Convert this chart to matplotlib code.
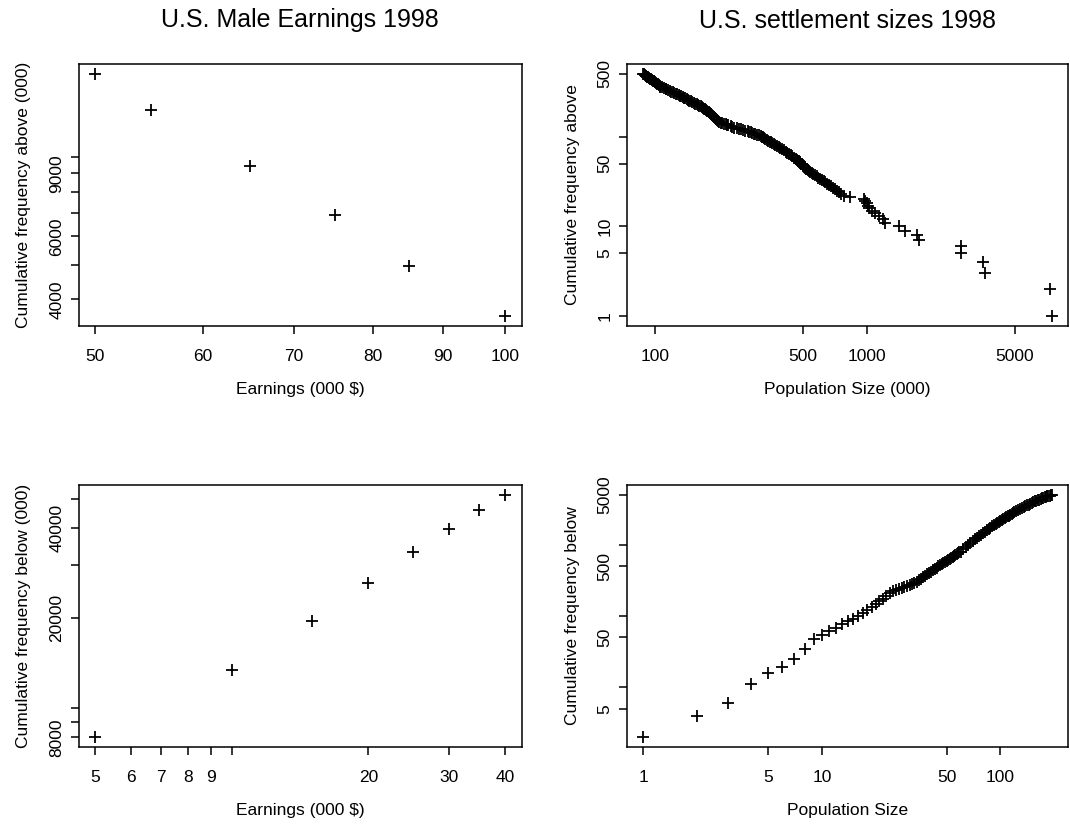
import matplotlib
matplotlib.use("Agg")
import matplotlib.pyplot as plt
from matplotlib.ticker import FixedLocator, FixedFormatter, NullLocator

plt.rcParams['font.family'] = ['Liberation Sans', 'DejaVu Sans']

W, H = 1070, 824

# U.S. male earnings 1998, cumulative frequency above (000)
earn_above_x = [50, 55, 65, 75, 85, 100]
earn_above_y = [17100, 13500, 9450, 6900, 4970, 3590]

# U.S. male earnings 1998, cumulative frequency below (000)
earn_below_x = [5, 10, 15, 20, 25, 30, 35, 40]
earn_below_y = [8000, 13400, 19600, 26100, 33100, 39600, 45900, 51500]

# settlement sizes (000) against cumulative frequency above
settle_above_rank = list(range(1, 26)) + [
    26, 27, 28, 29, 30, 31, 32, 33, 34, 35,
    36, 37, 38, 39, 40, 41, 42, 43, 44, 45,
    46, 47, 48, 49, 50, 51, 52, 53, 54, 55,
    56, 58, 60, 62, 64, 66, 68, 70, 72, 74,
    76, 78, 80, 82, 84, 86, 88, 90, 92, 94,
    96, 98, 100, 101, 103, 105, 107, 108, 110, 111,
    113, 114, 116, 118, 120, 122, 124, 126, 128, 130,
    133, 135, 137, 139, 141, 143, 146, 149, 152, 155,
    158, 161, 165, 168, 172, 176, 180, 184, 188, 192,
    197, 201, 205, 209, 213, 217, 221, 225, 229, 233,
    238, 242, 247, 251, 256, 260, 265, 269, 274, 279,
    284, 289, 294, 299, 305, 310, 316, 322, 328, 334,
    340, 346, 353, 360, 368, 375, 382, 389, 396, 403,
    410, 417, 425, 432, 440, 447, 455, 462, 470, 477,
    485, 492, 500]
settle_above_size = [
    7450, 7310, 3610, 3550, 2773, 2770, 1770, 1720, 1517, 1420, 1212, 1185, 1135,
    1094, 1056, 1026, 1010, 1000, 975, 964, 834, 780, 755, 736, 719,
    704, 689, 675, 661, 649, 637, 625, 614, 602, 590,
    579, 569, 559, 549, 540, 531, 526, 521, 516, 511,
    506, 501, 497, 493, 489, 485, 481, 477, 472, 467,
    462, 453, 444, 436, 428, 420, 413, 405, 397, 390,
    383, 376, 370, 363, 357, 352, 347, 342, 337, 332,
    328, 324, 320, 316, 309, 302, 296, 293, 286, 283,
    277, 274, 267, 261, 255, 249, 244, 237, 231, 227,
    222, 218, 215, 211, 208, 204, 200, 198, 196, 194,
    193, 191, 190, 188, 186, 184, 183, 181, 179, 176,
    174, 172, 170, 168, 167, 164, 162, 159, 157, 154,
    152, 149, 147, 145, 143, 141, 139, 137, 135, 133,
    131, 129, 127, 125, 123, 121, 119, 117, 115, 113,
    112, 110, 108, 106, 105, 104, 103, 102, 101, 100,
    99, 98, 97, 96, 95, 94, 93, 92, 91, 90.5,
    90, 89, 88]

# settlement sizes against cumulative frequency below
settle_below_size = list(range(1, 61)) + list(range(62, 121, 2)) + list(range(123, 193, 3)) + [194]
settle_below_count = [
    2, 4, 6, 11, 16, 19, 25, 35, 47, 54,
    61, 69, 77, 84, 92, 101, 111, 121, 133, 146,
    160, 175, 192, 210, 222, 232, 240, 247, 255, 262,
    271, 281, 290, 300, 316, 332, 348, 365, 382, 400,
    418, 437, 456, 475, 495, 514, 532, 551, 571, 590,
    610, 630, 650, 671, 692, 713, 734, 756, 778, 800,
    859, 921, 985, 1051, 1120, 1180, 1246, 1312, 1380, 1450,
    1516, 1584, 1655, 1727, 1800, 1866, 1934, 2005, 2074, 2150,
    2214, 2280, 2348, 2416, 2486, 2555, 2625, 2697, 2767, 2840,
    2937, 3033, 3131, 3231, 3333, 3433, 3532, 3629, 3726, 3823,
    3922, 4020, 4120, 4200, 4275, 4350, 4424, 4498, 4573, 4650,
    4723, 4796, 4872, 4945, 5000]

tl_xticks = [50, 60, 70, 80, 90, 100]
tl_xlabels = ['50', '60', '70', '80', '90', '100']
tl_yticks = [4000, 5000, 6000, 7000, 8000, 9000, 10000]
tl_ylabels = ['4000', '', '6000', '', '', '9000', '']
tr_xticks = [100, 500, 1000, 5000]
tr_xlabels = ['100', '500', '1000', '5000']
tr_yticks = [1, 5, 10, 50, 100, 500]
tr_ylabels = ['1', '5', '10', '50', '', '500']
bl_xticks = [5, 6, 7, 8, 9, 10, 20, 30, 40]
bl_xlabels = ['5', '6', '7', '8', '9', '', '20', '30', '40']
bl_yticks = [8000, 9000, 10000, 20000, 30000, 40000, 50000]
bl_ylabels = ['8000', '', '', '20000', '', '40000', '']
br_xticks = [1, 5, 10, 50, 100]
br_xlabels = ['1', '5', '10', '50', '100']
br_yticks = [5, 10, 50, 100, 500, 1000, 5000]
br_ylabels = ['5', '', '50', '', '500', '', '5000']


def box(left, top, right, bottom):
    return [left / W, 1 - bottom / H, (right - left) / W, (bottom - top) / H]


def panel(ax, x, y, xt, xl, yt, yl, xlab, ylab):
    ax.set_xscale('log')
    ax.set_yscale('log')
    ax.plot(x, y, linestyle='none', marker='+', ms=8, mew=1.3, color='black')
    ax.margins(0.04)
    ax.xaxis.set_major_locator(FixedLocator(xt))
    ax.xaxis.set_major_formatter(FixedFormatter(xl))
    ax.xaxis.set_minor_locator(NullLocator())
    ax.yaxis.set_major_locator(FixedLocator(yt))
    ax.yaxis.set_major_formatter(FixedFormatter(yl))
    ax.yaxis.set_minor_locator(NullLocator())
    for s in ax.spines.values():
        s.set_linewidth(1.1)
    ax.tick_params(direction='out', length=5.5, width=1.1, labelsize=12.5)
    ax.tick_params(axis='x', pad=10.8)
    ax.tick_params(axis='y', pad=4.8, labelrotation=90)
    plt.setp(ax.get_yticklabels(), va='center')
    ax.set_xlabel(xlab, fontsize=12.5, labelpad=13.2)
    ax.set_ylabel(ylab, fontsize=12.5, labelpad=12.8)


fig = plt.figure(figsize=(W / 100, H / 100), dpi=100)
ax_tl = fig.add_axes(box(78.5, 64, 521.7, 326))
ax_tr = fig.add_axes(box(627, 64, 1068, 326))
ax_bl = fig.add_axes(box(78.5, 485, 521.7, 747))
ax_br = fig.add_axes(box(627, 485, 1068, 747))

panel(ax_tl, earn_above_x, earn_above_y, tl_xticks, tl_xlabels, tl_yticks, tl_ylabels,
      'Earnings (000 $)', 'Cumulative frequency above (000)')
panel(ax_tr, settle_above_size, settle_above_rank, tr_xticks, tr_xlabels, tr_yticks, tr_ylabels,
      'Population Size (000)', 'Cumulative frequency above')
panel(ax_bl, earn_below_x, earn_below_y, bl_xticks, bl_xlabels, bl_yticks, bl_ylabels,
      'Earnings (000 $)', 'Cumulative frequency below (000)')
panel(ax_br, settle_below_size, settle_below_count, br_xticks, br_xlabels, br_yticks, br_ylabels,
      'Population Size', 'Cumulative frequency below')

fig.text(300 / W, 1 - 27.5 / H, 'U.S. Male Earnings 1998', ha='center', va='baseline',
         fontsize=18)
fig.text(847 / W, 1 - 27.5 / H, 'U.S. settlement sizes 1998', ha='center', va='baseline',
         fontsize=18)

fig.savefig('out.png', dpi=100)
